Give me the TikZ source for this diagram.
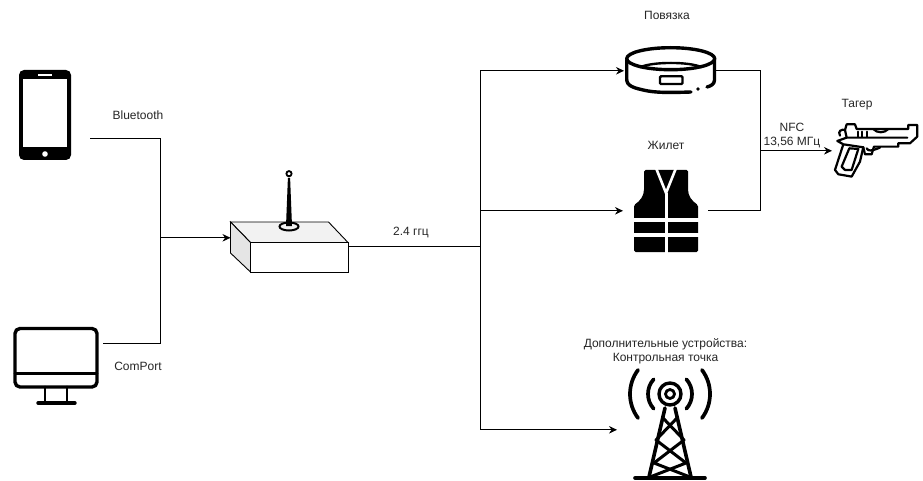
\documentclass[tikz,border=0pt]{standalone}
\usepackage{fontspec}
\setmainfont{Liberation Sans}
\usetikzlibrary{arrows.meta}
\tikzset{
    wire/.style={black, line width=0.9pt},
    arrowwire/.style={wire, -{Stealth[length=8pt,width=7.5pt]}},
    lbl/.style={font=\fontsize{12}{14.4}\selectfont, align=center, inner sep=0pt, text=black!85},
    icon/.style={black, line width=3.4pt, line cap=round, line join=round},
    pad/.style={inner sep=0pt, minimum size=2pt}
}
\begin{document}
\begin{tikzpicture}[x=1pt, y=-1pt]
        \useasboundingbox (0,0) rectangle (923,481);
        \fill[white] (0,0) rectangle (923,481);

        % phone
        \node[pad] (phone) at (45,115) {};
        \fill[black, rounded corners=5pt] (19,70) rectangle (71,160);
        \fill[white] (23,79) rectangle (67,147);
        \draw[white, line width=1.2pt] (38,75) -- (52,75);
        \fill[white] (45,154) circle (2.8);

        % computer
        \node[pad] (screen) at (57,365) {};
        \draw[icon, rounded corners=5pt] (15,328.5) rectangle (97,387);
        \draw[icon, line width=2.8pt] (15,373.5) -- (97,373.5);
        \draw[icon, line width=2.8pt] (45,387) -- (45,402);
        \draw[icon, line width=2.8pt] (67,387) -- (67,402);
        \draw[icon] (38,403) -- (75,403);

        % hub box
        \filldraw[draw=black, fill=black!5, line width=0.9pt] (230.5,222) -- (328.5,222) -- (348,242.5) -- (250.5,242.5) -- cycle;
        \filldraw[draw=black, fill=black!10, line width=0.9pt] (230.5,222) -- (250.5,242.5) -- (250.5,272) -- (230.5,253) -- cycle;
        \node[draw=black, fill=white, line width=0.9pt, minimum width=97.5pt, minimum height=29.5pt, inner sep=0pt] (hub) at (299.25,257.25) {};
        \fill[black] (287.9,178) -- (290.1,178) -- (292,226) -- (286,226) -- cycle;
        \draw[black, line width=2pt] (289,226.5) ellipse (9.5 and 4);
        \draw[black, line width=1.8pt, fill=white] (289,173.7) circle (2.6);

        % bracelet
        \node[pad] (band) at (671,70) {};
        \draw[icon] (670.7,58.7) ellipse (44 and 11);
        \draw[black, line width=2.4pt] (640,67.3) .. controls (652,61.5) and (690,61.5) .. (701.7,67.3);
        \draw[icon] (626.7,60) -- (626.7,79) .. controls (626.7,86) and (633,88) .. (648,91) .. controls (660,93) and (675,92.5) .. (691,92);
        \draw[icon] (714.5,60) -- (714.5,80) .. controls (714.5,84) and (711,86) .. (707,87);
        \fill[black] (698,89) circle (1.8);
        \draw[black, line width=2.4pt, rounded corners=1pt] (660,76.3) rectangle (682.5,84);

        % vest
        \node[pad] (vest) at (666,211) {};
        \fill[black, rounded corners=1.5pt] (644,170) -- (688,170) -- (688,188) .. controls (688,196) and (692,201) .. (698,205) -- (698,252) -- (634,252) -- (634,205) .. controls (640,201) and (644,196) .. (644,188) -- cycle;
        \draw[white, line width=2.6pt] (656,168) -- (666,193) -- (676,168);
        \draw[white, line width=3pt] (666,193) -- (666,254);
        \fill[white] (632,217.7) rectangle (700,221.7);
        \fill[white] (632,233) rectangle (700,237);

        % tower
        \node[pad] (tower) at (670,420) {};
        \draw[icon] (670,394) circle (11);
        \draw[icon, line width=2.8pt] (670,394) circle (4.5);
        \foreach \r/\a in {22/42,40/37} {
            \draw[icon, line width=3.7pt] (670,394) ++(180-\a:\r) arc (180-\a:180+\a:\r);
            \draw[icon, line width=3.7pt] (670,394) ++(\a:\r) arc (\a:-\a:\r);
        }
        \draw[icon, line width=3.6pt] (635,478) -- (705,478);
        \draw[icon, line width=3.6pt] (665,408) -- (649,477);
        \draw[icon, line width=3.6pt] (675,408) -- (691,477);
        \draw[icon, line width=3pt] (663,418) -- (684,440) -- (654,463) -- (690,477);
        \draw[icon, line width=3pt] (677,418) -- (656,440) -- (686,463) -- (650,477);

        % tagger
        \node[pad] (gun) at (877,150) {};
        \begin{scope}[shift={(830,115)}, x=0.333pt, y=-0.333pt, black, line width=2.2pt, line join=round, line cap=round]
            \draw (30,62) .. controls (22,48) and (35,42) .. (45,45) -- (50,28) -- (75,28) -- (80,42) -- (235,42) -- (235,30) -- (262,30) -- (262,65) -- (240,85) -- (205,85) -- (205,95) -- (132,95) -- (125,118) -- (105,118) -- (100,97);
            \draw (45,45) -- (50,68) -- (232,68);
            \draw (50,68) -- (22,78) -- (40,88) -- (15,165) -- (25,178) -- (65,185) -- (90,140) -- (100,97) -- (40,88);
            \draw (58,100) -- (35,155) -- (45,165) -- (65,165) -- (85,102) -- cycle;
            \draw (85,50) -- (85,65);
            \draw (97,50) -- (97,65);
            \draw (110,50) -- (110,65);
            \draw (130,42) .. controls (140,55) and (165,55) .. (175,42);
            \draw (110,100) .. controls (115,110) and (125,108) .. (150,98);
        \end{scope}

        % junctions and free ends
        \coordinate (phoneout) at (90,138);
        \coordinate (screenout) at (103,343.3);
        \coordinate (busin) at (160.5,237.8);
        \coordinate (hubin) at (230.5,237.8);
        \coordinate (hubout) at (348,246.8);
        \coordinate (trunk) at (480.5,246.8);
        \coordinate (bandin) at (624,70.8);
        \coordinate (vestin) at (623,210.8);
        \coordinate (towerin) at (617,429.8);
        \coordinate (bandout) at (716,70.8);
        \coordinate (vestout) at (708,210.8);
        \coordinate (nfcbus) at (760.5,150.8);
        \coordinate (gunin) at (832,150.8);

        \draw[wire] (phoneout) -| (busin);
        \draw[wire] (screenout) -| (busin);
        \draw[arrowwire] (busin) -- (hubin);
        \draw[wire] (hubout) -- (trunk);
        \draw[arrowwire] (trunk) |- (bandin);
        \draw[arrowwire] (trunk) |- (vestin);
        \draw[arrowwire] (trunk) |- (towerin);
        \draw[wire] (bandout) -| (nfcbus);
        \draw[wire] (vestout) -| (nfcbus);
        \draw[arrowwire] (nfcbus) -- (gunin);

        \node[lbl] (lblbt) at (138,115) {Bluetooth};
        \node[lbl] (lblcom) at (138,366) {ComPort};
        \node[lbl] (lblrf) at (411,233) {2.4 ггц};
        \node[lbl] (lblband) at (667,15) {Повязка};
        \node[lbl] (lblvest) at (666,145) {Жилет};
        \node[lbl] (lblextra) at (665.5,351) {Дополнительные устройства:\\Контрольная точка};
        \node[lbl] (lblnfc) at (792,135.5) {NFC\\13,56 МГц};
        \node[lbl] (lblgun) at (857,105) {Тагер};
\end{tikzpicture}
\end{document}
